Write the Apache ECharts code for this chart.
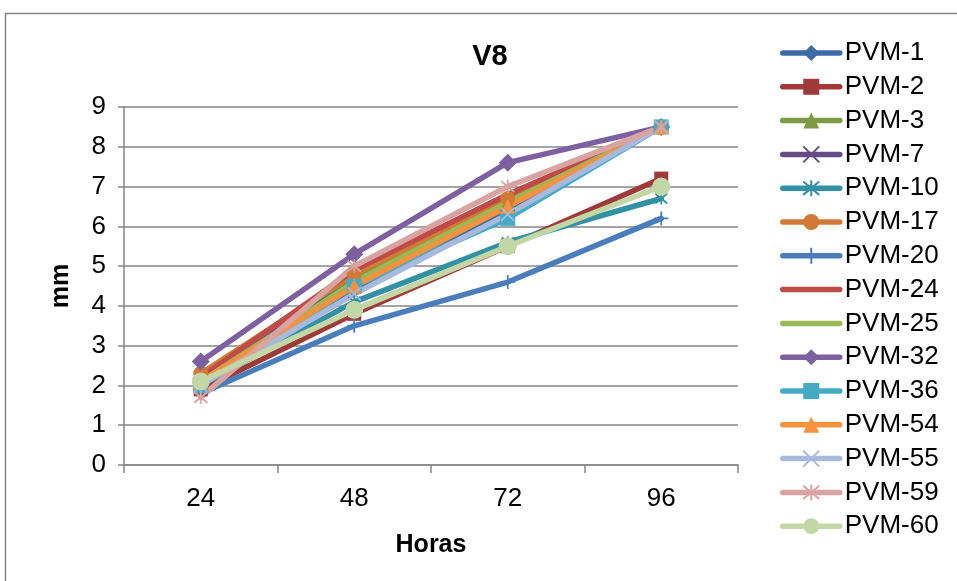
<!DOCTYPE html>
<html>
<head>
<meta charset="utf-8">
<script src="https://cdn.jsdelivr.net/npm/echarts@6/dist/echarts.min.js"></script>
<style>
  html, body { margin: 0; padding: 0; background: #ffffff; }
  #chart { width: 957px; height: 581px; }
</style>
</head>
<body>
<div id="chart"></div>
<script>
// Growth (mm) of each PVM isolate over time (hours), plate V8
const hours = ['24', '48', '72', '96'];
const yTicks = [0, 1, 2, 3, 4, 5, 6, 7, 8, 9];

const pvm1  = [2.1, 4.4, 6.4, 8.5];
const pvm2  = [1.9, 3.8, 5.5, 7.2];
const pvm3  = [2.2, 4.7, 6.6, 8.5];
const pvm7  = [2.2, 4.6, 6.5, 8.5];
const pvm10 = [2.0, 4.1, 5.6, 6.7];
const pvm17 = [2.3, 4.8, 6.7, 8.5];
const pvm20 = [1.8, 3.5, 4.6, 6.2];
const pvm24 = [2.2, 4.9, 6.8, 8.5];
const pvm25 = [2.1, 4.6, 6.6, 8.5];
const pvm32 = [2.6, 5.3, 7.6, 8.5];
const pvm36 = [2.0, 4.5, 6.2, 8.5];
const pvm54 = [2.1, 4.5, 6.5, 8.5];
const pvm55 = [2.0, 4.3, 6.3, 8.5];
const pvm59 = [1.7, 5.0, 7.0, 8.5];
const pvm60 = [2.1, 3.9, 5.5, 7.0];

// Stroke-only marker shapes
const X_MARK = 'path://M0,0L10,10M10,0L0,10';
const STAR_MARK = 'path://M0,0L10,10M10,0L0,10M5,-1L5,11';
const PLUS_MARK = 'path://M5,0L5,10M0,5L10,5';

const seriesDefs = [
  { name: 'PVM-1',  data: pvm1,  color: '#3C6BA5', symbol: 'diamond',  size: 15 },
  { name: 'PVM-2',  data: pvm2,  color: '#9E3A38', symbol: 'rect',     size: 14 },
  { name: 'PVM-3',  data: pvm3,  color: '#7E9A45', symbol: 'triangle', size: 14 },
  { name: 'PVM-7',  data: pvm7,  color: '#664C86', symbol: X_MARK,     size: 12, stroke: true },
  { name: 'PVM-10', data: pvm10, color: '#3490A3', symbol: STAR_MARK,  size: 12, stroke: true },
  { name: 'PVM-17', data: pvm17, color: '#D27A35', symbol: 'circle',   size: 15 },
  { name: 'PVM-20', data: pvm20, color: '#4A7EBB', symbol: PLUS_MARK,  size: 14, stroke: true },
  { name: 'PVM-24', data: pvm24, color: '#BE4B48', symbol: 'none',     size: 8 },
  { name: 'PVM-25', data: pvm25, color: '#98B954', symbol: 'none',     size: 8 },
  { name: 'PVM-32', data: pvm32, color: '#7D60A0', symbol: 'diamond',  size: 18 },
  { name: 'PVM-36', data: pvm36, color: '#46AAC5', symbol: 'rect',     size: 15 },
  { name: 'PVM-54', data: pvm54, color: '#F69240', symbol: 'triangle', size: 15 },
  { name: 'PVM-55', data: pvm55, color: '#A7B9DC', symbol: X_MARK,     size: 13, stroke: true },
  { name: 'PVM-59', data: pvm59, color: '#D9A3A2', symbol: STAR_MARK,  size: 13, stroke: true },
  { name: 'PVM-60', data: pvm60, color: '#C3D6A5', symbol: 'circle',   size: 18 }
];

const series = seriesDefs.map(function (d) {
  return {
    name: d.name,
    type: 'line',
    data: d.data,
    symbol: d.symbol,
    symbolSize: d.size,
    showSymbol: d.symbol !== 'none',
    lineStyle: { color: d.color, width: 5.5, cap: 'round', join: 'round' },
    itemStyle: d.stroke
      ? { color: d.color, borderColor: d.color, borderWidth: 1.8 }
      : { color: d.color, borderWidth: 0 },
    emphasis: { disabled: true },
    animation: false
  };
});

// Legend entries: series without markers show only their line
const legendData = seriesDefs.map(function (d) {
  return d.symbol === 'none'
    ? { name: d.name, itemStyle: { opacity: 0 } }
    : { name: d.name };
});

const chart = echarts.init(document.getElementById('chart'), null, { renderer: 'canvas' });

const FONT = '"Liberation Sans", Arial, sans-serif';

chart.setOption({
  backgroundColor: '#ffffff',
  animation: false,
  textStyle: { fontFamily: FONT, color: '#000000' },
  title: {
    text: 'V8',
    left: 485,
    top: 37,
    textAlign: 'center',
    textStyle: { fontFamily: FONT, fontSize: 29, fontWeight: 'bold', color: '#000000' }
  },
  graphic: [{
    type: 'rect',
    shape: { x: 5.5, y: 13.5, width: 1000, height: 700 },
    style: { fill: 'none', stroke: '#868686', lineWidth: 1.5 },
    silent: true,
    z: -1
  }],
  grid: { left: 124, right: 219, top: 107, bottom: 116, containLabel: false },
  legend: {
    orient: 'vertical',
    left: 780,
    top: 40,
    padding: 0,
    itemWidth: 57,
    itemHeight: 20,
    itemGap: 7.8,
    selectedMode: false,
    lineStyle: { width: 5.5, cap: 'round' },
    textStyle: { fontFamily: FONT, fontSize: 26, color: '#000000' },
    data: legendData
  },
  xAxis: {
    type: 'category',
    data: hours,
    boundaryGap: true,
    name: 'Horas',
    nameLocation: 'middle',
    nameGap: 68,
    nameTextStyle: { fontFamily: FONT, fontSize: 25, fontWeight: 'bold', color: '#000000', verticalAlign: 'top' },
    axisLine: { lineStyle: { color: '#868686', width: 1.5 } },
    axisTick: { show: true, alignWithLabel: false, length: 8, lineStyle: { color: '#868686', width: 1.5 } },
    axisLabel: { fontFamily: FONT, fontSize: 26, color: '#000000', margin: 21 },
    splitLine: { show: false }
  },
  yAxis: {
    type: 'value',
    min: 0,
    max: 9,
    interval: 1,
    name: 'mm',
    nameLocation: 'middle',
    nameGap: 50,
    nameRotate: 90,
    nameTextStyle: { fontFamily: FONT, fontSize: 25, fontWeight: 'bold', color: '#000000' },
    axisLine: { show: true, lineStyle: { color: '#868686', width: 1.5 } },
    axisTick: { show: true, length: 6, lineStyle: { color: '#868686', width: 1.5 } },
    axisLabel: {
      fontFamily: FONT, fontSize: 26, color: '#000000', margin: 18,
      formatter: function (v) { return yTicks.indexOf(v) >= 0 ? String(v) : ''; }
    },
    splitLine: { show: true, lineStyle: { color: '#868686', width: 1.5 } }
  },
  series: series
});
</script>
</body>
</html>
